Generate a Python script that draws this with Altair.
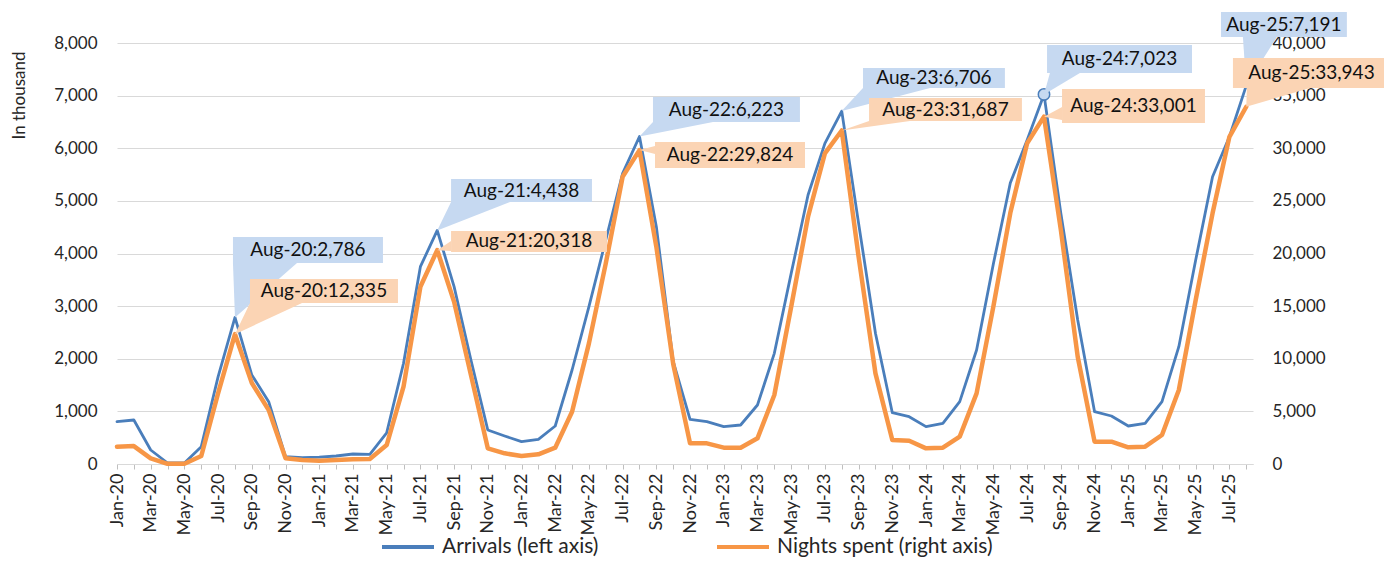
import altair as alt
import pandas as pd

# ---------------- data ----------------
mon = ["Jan", "Feb", "Mar", "Apr", "May", "Jun", "Jul", "Aug", "Sep", "Oct", "Nov", "Dec"]
years = ["20", "21", "22", "23", "24", "25"]
months = [f"{m}-{y}" for y in years for m in mon][:68]

arrivals = [
    804, 836, 266, 19, 20, 330, 1660, 2786, 1690, 1185, 140, 120,
    130, 152, 190, 184, 590, 1915, 3750, 4438, 3370, 1976, 646, 532,
    424, 469, 722, 1786, 2990, 4256, 5523, 6223, 4510, 1950, 849, 804,
    710, 741, 1121, 2103, 3623, 5111, 6093, 6706, 4573, 2483, 975, 899,
    710, 773, 1185, 2166, 3810, 5340, 6157, 7023, 4763, 2736, 994, 912,
    722, 773, 1184, 2229, 3876, 5459, 6219, 7191,
]
nights = [
    1645, 1700, 540, 20, 30, 760, 6740, 12335, 7690, 5130, 540, 380,
    315, 380, 450, 470, 1800, 7345, 16840, 20318, 15420, 8455, 1490, 1013,
    760, 918, 1550, 4970, 11460, 19060, 27290, 29824, 20640, 9500, 1960, 1960,
    1550, 1550, 2440, 6555, 14945, 23495, 29515, 31687, 19690, 8615, 2280, 2216,
    1488, 1550, 2597, 6713, 15000, 23845, 30470, 33001, 22230, 10190, 2120, 2120,
    1583, 1647, 2755, 7030, 15580, 23815, 31090, 33943,
]

series_names = ["Arrivals (left axis)", "Nights spent (right axis)"]
callout_months = ["Aug-20", "Aug-21", "Aug-22", "Aug-23", "Aug-24", "Aug-25"]
marker_month = "Aug-24"

# callout boxes (x in month positions, y in axis units)
blue_box_x1 = [6.88, 19.82, 31.80, 44.26, 55.18, 65.50]
blue_box_x2 = [15.78, 28.18, 40.52, 52.68, 63.78, 72.97]
blue_box_y1 = [3819, 4978, 6498, 7144, 7429, 8113]
blue_box_y2 = [4313, 5415, 6973, 7524, 7961, 8588]
orange_box_x1 = [7.89, 19.82, 31.92, 44.62, 56.07, 66.21]
orange_box_x2 = [16.67, 29.07, 40.82, 53.69, 64.55, 75.53]
orange_box_y1 = [15297, 20144, 28123, 32589, 32399, 35724]
orange_box_y2 = [17577, 22139, 30593, 34774, 35629, 38574]

# callout pointers: base on the box bottom (bottom) or on the box left side (side)
blue_ptr_a = [6.88, 19.82, 31.80, 44.26, 55.35, 66.80]
blue_ptr_b = [10.68, 23.32, 35.36, 48.24, 57.13, 68.82]
orange_ptr_kind = ["bottom", "side", "side", "bottom", "side", "bottom"]
orange_ptr_a = [7.89, 20237, 29453, 44.62, 32683, 67.04]
orange_ptr_b = [10.98, 21187, 30213, 47.05, 33918, 70.78]

# ---------------- styles ----------------
FONT = "Lato"
BLUE = "#4a7ebb"
ORANGE = "#f79646"
BLUE_BOX = "#c6d9f1"
ORANGE_BOX = "#fbd4b4"
TXT = "#262626"

idx = list(range(len(months)))
blue_df = pd.DataFrame({"i": idx, "v": arrivals, "series": series_names[0]})
orange_df = pd.DataFrame({"i": idx, "v": nights, "series": series_names[1]})


def box_df(x1, x2, y1, y2, values):
    rows = []
    for k, m in enumerate(callout_months):
        v = values[months.index(m)]
        rows.append({
            "key": m, "x1": x1[k], "x2": x2[k], "y1": y1[k], "y2": y2[k],
            "xc": (x1[k] + x2[k]) / 2, "yc": (y1[k] + y2[k]) / 2,
            "label": f"{m}:{v:,}",
        })
    return pd.DataFrame(rows)


blue_boxes = box_df(blue_box_x1, blue_box_x2, blue_box_y1, blue_box_y2, arrivals)
orange_boxes = box_df(orange_box_x1, orange_box_x2, orange_box_y1, orange_box_y2, nights)

# pointer wedges
blue_w = []
for k, m in enumerate(callout_months):
    i = months.index(m)
    blue_w.append({"key": m, "wy": arrivals[i], "wx": i, "wx2": i})
    blue_w.append({"key": m, "wy": blue_box_y1[k], "wx": blue_ptr_a[k], "wx2": blue_ptr_b[k]})
blue_w = pd.DataFrame(blue_w)

orange_wh, orange_wv = [], []
for k, m in enumerate(callout_months):
    i = months.index(m)
    if orange_ptr_kind[k] == "bottom":
        orange_wh.append({"key": m, "wy": nights[i], "wx": i, "wx2": i})
        orange_wh.append({"key": m, "wy": orange_box_y1[k], "wx": orange_ptr_a[k], "wx2": orange_ptr_b[k]})
    else:
        orange_wv.append({"key": m, "wx": i, "wy": nights[i], "wy2": nights[i]})
        orange_wv.append({"key": m, "wx": orange_box_x1[k], "wy": orange_ptr_a[k], "wy2": orange_ptr_b[k]})
orange_wh = pd.DataFrame(orange_wh)
orange_wv = pd.DataFrame(orange_wv)

mi = months.index(marker_month)
marker_df = pd.DataFrame({"i": [mi], "v": [arrivals[mi]]})

# ---------------- scales / axes ----------------
xscale = alt.Scale(domain=[0, 67.4], nice=False, zero=False)
yl_scale = alt.Scale(domain=[0, 8000], nice=False)
yr_scale = alt.Scale(domain=[0, 40000], nice=False)

label_arr = "[" + ",".join(f"'{m}'" for m in months) + "]"
x_axis = alt.Axis(
    values=idx,
    labelExpr=f"datum.value % 2 == 0 ? {label_arr}[datum.value] : ''",
    labelAngle=270, labelAlign="right", labelBaseline="middle",
    labelOverlap=False, labelFlush=False, labelPadding=4,
    labelFont=FONT, labelFontSize=18, labelColor=TXT,
    tickSize=5, tickColor="#bfbfbf", domainColor="#d9d9d9", grid=False,
    title=None,
)
yl_axis = alt.Axis(
    values=list(range(0, 8001, 1000)), format=",.0f", orient="left",
    labelFont=FONT, labelFontSize=17, labelColor=TXT, labelPadding=20,
    ticks=False, domain=False, grid=True, gridColor="#d9d9d9",
    title="In thousand", titleFont=FONT, titleFontSize=17, titleFontWeight="normal",
    titleColor=TXT, titleAngle=270, titleAlign="center", titleBaseline="middle",
    titleX=-98, titleY=52,
)
yr_axis = alt.Axis(
    values=list(range(0, 40001, 5000)), format=",.0f", orient="right",
    labelFont=FONT, labelFontSize=17, labelColor=TXT, labelPadding=19,
    ticks=False, domain=False, grid=False, title=None,
)
cscale = alt.Scale(domain=series_names, range=[BLUE, ORANGE])
legend = alt.Legend(
    orient="none", legendX=263, legendY=476, direction="horizontal", title=None,
    symbolType="stroke", symbolSize=2704, symbolStrokeWidth=4,
    labelFont=FONT, labelFontSize=21, labelColor=TXT, labelOffset=6,
    labelLimit=500, columnPadding=110,
)

X = dict(scale=xscale, axis=x_axis)
YL = dict(scale=yl_scale, axis=yl_axis)
YR = dict(scale=yr_scale, axis=yr_axis)

# ---------------- left group (arrivals) ----------------
blue_line = alt.Chart(blue_df).mark_line(strokeWidth=2.8, strokeJoin="round", strokeCap="round").encode(
    x=alt.X("i:Q", **X),
    y=alt.Y("v:Q", **YL),
    color=alt.Color("series:N", scale=cscale, legend=legend),
)
blue_marker = alt.Chart(marker_df).mark_circle(size=130, fill=BLUE_BOX, stroke=BLUE, strokeWidth=1.5, opacity=1).encode(
    x=alt.X("i:Q", **X),
    y=alt.Y("v:Q", **YL),
)
blue_wedge = alt.Chart(blue_w).mark_area(orient="horizontal", color=BLUE_BOX, opacity=1).encode(
    y=alt.Y("wy:Q", **YL),
    x=alt.X("wx:Q", **X),
    x2="wx2:Q",
    detail="key:N",
)
blue_box = alt.Chart(blue_boxes).mark_rect(color=BLUE_BOX, opacity=1).encode(
    x=alt.X("x1:Q", **X), x2="x2:Q",
    y=alt.Y("y1:Q", **YL), y2="y2:Q",
)
blue_text = alt.Chart(blue_boxes).mark_text(font=FONT, fontSize=19, color="#111111", align="center", baseline="middle").encode(
    x=alt.X("xc:Q", **X),
    y=alt.Y("yc:Q", **YL),
    text="label:N",
)
left = alt.layer(blue_line, blue_marker, blue_wedge, blue_box, blue_text)

# ---------------- right group (nights) ----------------
orange_line = alt.Chart(orange_df).mark_line(strokeWidth=4.5, strokeJoin="round", strokeCap="round").encode(
    x=alt.X("i:Q", **X),
    y=alt.Y("v:Q", **YR),
    color=alt.Color("series:N", scale=cscale, legend=legend),
)
orange_wedge_h = alt.Chart(orange_wh).mark_area(orient="horizontal", color=ORANGE_BOX, opacity=1).encode(
    y=alt.Y("wy:Q", **YR),
    x=alt.X("wx:Q", **X),
    x2="wx2:Q",
    detail="key:N",
)
orange_wedge_v = alt.Chart(orange_wv).mark_area(orient="vertical", color=ORANGE_BOX, opacity=1).encode(
    x=alt.X("wx:Q", **X),
    y=alt.Y("wy:Q", **YR),
    y2="wy2:Q",
    detail="key:N",
)
orange_box = alt.Chart(orange_boxes).mark_rect(color=ORANGE_BOX, opacity=1).encode(
    x=alt.X("x1:Q", **X), x2="x2:Q",
    y=alt.Y("y1:Q", **YR), y2="y2:Q",
)
orange_text = alt.Chart(orange_boxes).mark_text(font=FONT, fontSize=19, color="#111111", align="center", baseline="middle").encode(
    x=alt.X("xc:Q", **X),
    y=alt.Y("yc:Q", **YR),
    text="label:N",
)
right = alt.layer(orange_line, orange_wedge_h, orange_wedge_v, orange_box, orange_text)

chart = alt.layer(left, right).resolve_scale(y="independent").properties(
    width=1136, height=421,
    autosize=alt.AutoSizeParams(type="none"),
    padding={"left": 109, "top": 35, "right": 131, "bottom": 93},
).configure(font=FONT).configure_view(strokeWidth=0)

chart.save("out.html", embed_options={"renderer": "svg", "actions": False})
